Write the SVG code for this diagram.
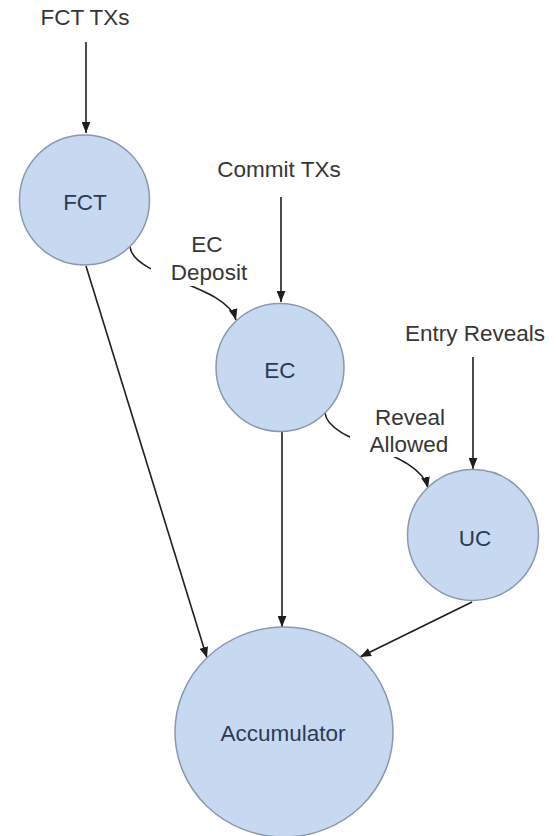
<svg xmlns="http://www.w3.org/2000/svg" width="556" height="836" viewBox="0 0 556 836">
  <style>
    .node { fill: #c6d9f1; stroke: #8a98ad; stroke-width: 1.5; }
    .nlabel { font-family: "Liberation Sans", Arial, sans-serif; font-size: 22.5px; fill: #2c3a56; text-anchor: middle; }
    .label { font-family: "Liberation Sans", Arial, sans-serif; font-size: 22.5px; fill: #363636; text-anchor: middle; }
    .edge { fill: none; stroke: #1e1e1e; stroke-width: 1.6; marker-end: url(#arrow); }
    .mask { fill: #ffffff; stroke: none; }
  </style>
  <defs>
    <marker id="arrow" viewBox="0 0 10 8" refX="10" refY="4" markerWidth="11" markerHeight="9" markerUnits="userSpaceOnUse" orient="auto">
      <path d="M0,0 L10,4 L0,8 z" fill="#1e1e1e"/>
    </marker>
  </defs>

  <rect width="556" height="836" fill="#ffffff"/>

  <!-- connectors -->
  <g id="connectors">
    <path class="edge" d="M86,42 L86,133"/>
    <path class="edge" d="M281,197 L281,302"/>
    <path class="edge" d="M473,357 L473,469"/>
    <path class="edge" d="M130,247 C134,278 226,284 236,320"/>
    <path class="edge" d="M325,413 C329,444 419,450 428,488"/>
    <path class="edge" d="M86,266 L207,658"/>
    <path class="edge" d="M282,432 L282,627"/>
    <path class="edge" d="M472,602 L360,657"/>
    <!-- gaps behind edge labels -->
    <rect class="mask" x="151" y="230" width="114" height="56"/>
    <rect class="mask" x="350" y="398" width="108" height="59"/>
    <text class="label" x="207" y="252">EC</text>
    <text class="label" x="209" y="280">Deposit</text>
    <text class="label" x="410" y="425">Reveal</text>
    <text class="label" x="409" y="452">Allowed</text>
  </g>

  <!-- source labels -->
  <g id="src-fct">
    <text class="label" x="85" y="25">FCT TXs</text>
  </g>
  <g id="src-commit">
    <text class="label" x="279" y="177">Commit TXs</text>
  </g>
  <g id="src-reveals">
    <text class="label" x="475" y="341">Entry Reveals</text>
  </g>

  <!-- nodes -->
  <g id="fct">
    <circle class="node" cx="84.5" cy="200" r="65"/>
    <text class="nlabel" x="85" y="210">FCT</text>
  </g>
  <g id="ec">
    <circle class="node" cx="280" cy="367.5" r="64"/>
    <text class="nlabel" x="280" y="378">EC</text>
  </g>
  <g id="uc">
    <circle class="node" cx="473" cy="535" r="65.5"/>
    <text class="nlabel" x="475" y="546">UC</text>
  </g>
  <g id="accumulator">
    <ellipse class="node" cx="284" cy="732" rx="109" ry="105"/>
    <text class="nlabel" x="283" y="741">Accumulator</text>
  </g>
</svg>
